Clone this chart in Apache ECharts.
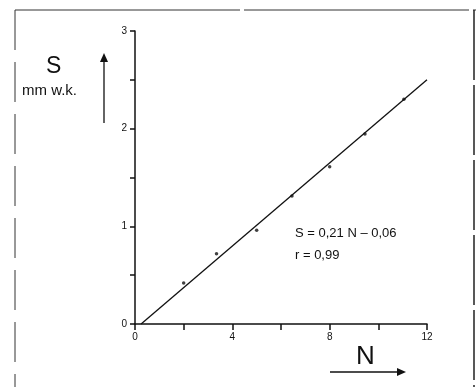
<!DOCTYPE html>
<html>
<head>
<meta charset="utf-8">
<script src="https://cdn.jsdelivr.net/npm/echarts@6/dist/echarts.min.js"></script>
<style>
html,body{margin:0;padding:0;background:#fff;}
#chart{width:476px;height:387px;}
</style>
</head>
<body>
<div id="chart"></div>
<script>
// Measured points (N, S in mm w.k.)
var pointsN = [2.0, 3.35, 5.0, 6.45, 8.0, 9.45, 11.05];
var pointsS = [0.42, 0.72, 0.96, 1.31, 1.61, 1.945, 2.30];
// Regression line S = 0,21 N - 0,06 (as drawn)
var fitN = [0.25, 12];
var fitS = [0.0, 2.5];
var xTickLabels = [0, 4, 8, 12];
var yTickLabels = [0, 1, 2, 3];

var chart = echarts.init(document.getElementById('chart'), null, {renderer: 'canvas'});
var font = '"Liberation Sans", "DejaVu Sans", sans-serif';
var ink = '#111';

function zip(a, b) { return a.map(function (v, i) { return [v, b[i]]; }); }

chart.setOption({
  animation: false,
  backgroundColor: '#fff',
  grid: {left: 135, right: 49, top: 31, bottom: 63},
  xAxis: {
    type: 'value', min: 0, max: 12, interval: 2,
    axisLine: {show: true, onZero: false, lineStyle: {color: ink, width: 1.5}},
    axisTick: {show: true, inside: false, length: 6, lineStyle: {color: ink, width: 1.5}},
    splitLine: {show: false},
    axisLabel: {
      color: ink, fontFamily: font, fontSize: 10, margin: 8,
      formatter: function (v) { return xTickLabels.indexOf(v) >= 0 ? String(v) : ''; }
    }
  },
  yAxis: {
    type: 'value', min: 0, max: 3, interval: 0.5,
    axisLine: {show: true, onZero: false, lineStyle: {color: ink, width: 1.5}},
    axisTick: {show: true, inside: false, length: 5, lineStyle: {color: ink, width: 1.5}},
    splitLine: {show: false},
    axisLabel: {
      color: ink, fontFamily: font, fontSize: 10, margin: 8,
      formatter: function (v) { return yTickLabels.indexOf(v) >= 0 ? String(v) : ''; }
    }
  },
  series: [
    {
      type: 'line', data: zip(fitN, fitS), symbol: 'none',
      lineStyle: {color: ink, width: 1.3}, silent: true
    },
    {
      type: 'scatter', data: zip(pointsN, pointsS), symbol: 'circle', symbolSize: 3.5,
      itemStyle: {color: ink}, silent: true
    }
  ],
  graphic: [
    // scanned frame
    {type: 'line', shape: {x1: 15, y1: 10, x2: 476, y2: 10}, style: {stroke: '#333', lineWidth: 1, lineDash: [225, 4]}},
    {type: 'line', shape: {x1: 15, y1: 10, x2: 15, y2: 387}, style: {stroke: '#333', lineWidth: 1, lineDash: [40, 12]}},
    {type: 'line', shape: {x1: 474, y1: 10, x2: 474, y2: 387}, style: {stroke: '#222', lineWidth: 1.5, lineDash: [70, 5]}},
    // Y axis title and arrow
    {type: 'text', left: 46, top: 55, style: {text: 'S', font: '23px ' + font, fill: ink}},
    {type: 'text', left: 22, top: 83, style: {text: 'mm w.k.', font: '15px ' + font, fill: ink}},
    {type: 'line', shape: {x1: 104, y1: 123, x2: 104, y2: 60}, style: {stroke: ink, lineWidth: 1.3}},
    {type: 'polygon', shape: {points: [[104, 53], [100, 62], [108, 62]]}, style: {fill: ink}},
    // X axis title and arrow
    {type: 'text', left: 356, top: 344, style: {text: 'N', font: '26px ' + font, fill: ink}},
    {type: 'line', shape: {x1: 330, y1: 372, x2: 398, y2: 372}, style: {stroke: ink, lineWidth: 1.3}},
    {type: 'polygon', shape: {points: [[406, 372], [397, 368], [397, 376]]}, style: {fill: ink}},
    // Regression annotation
    {type: 'text', left: 295, top: 227, style: {text: 'S = 0,21 N \u2013 0,06', font: '13px ' + font, fill: ink}},
    {type: 'text', left: 295, top: 249, style: {text: 'r = 0,99', font: '13px ' + font, fill: ink}}
  ]
});
</script>
</body>
</html>
